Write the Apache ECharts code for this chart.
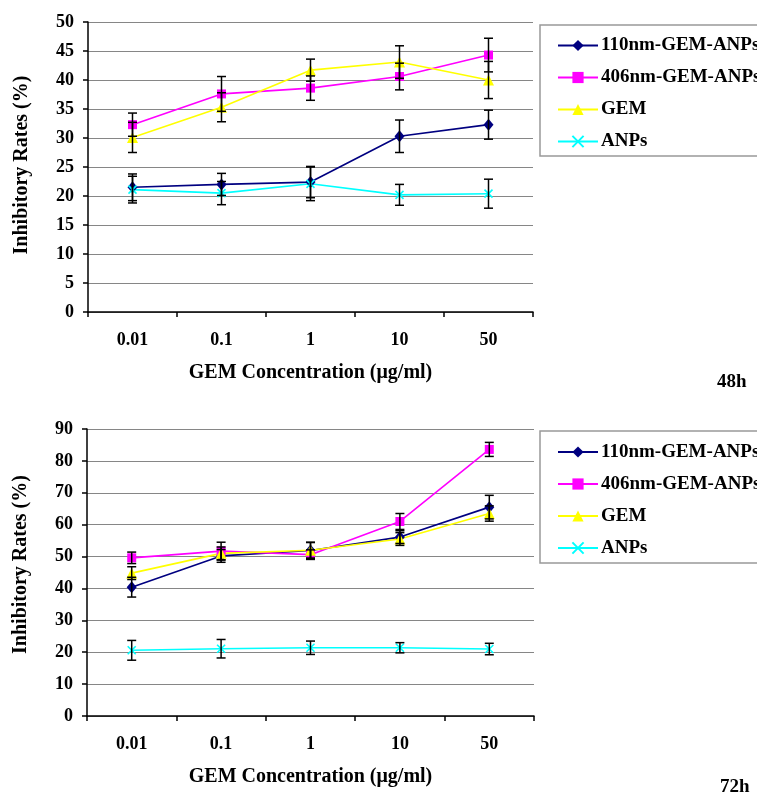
<!DOCTYPE html>
<html>
<head>
<meta charset="utf-8">
<script src="https://cdn.jsdelivr.net/npm/echarts@6/dist/echarts.min.js"></script>
<style>
  html, body { margin: 0; padding: 0; background: #fff; }
  #main { width: 757px; height: 793px; }
</style>
</head>
<body>
<div id="main"></div>
<script>
// concentrations (ug/ml)
const categories = ['0.01', '0.1', '1', '10', '50'];
const seriesNames = ['110nm-GEM-ANPs', '406nm-GEM-ANPs', 'GEM', 'ANPs'];

// 48h inhibitory rates (%) and error
const rate48_110 = [21.5, 22.0, 22.4, 30.3, 32.3];
const err48_110 = [2.3, 1.9, 2.7, 2.8, 2.5];
const rate48_406 = [32.3, 37.6, 38.6, 40.6, 44.3];
const err48_406 = [2.0, 3.0, 2.1, 2.3, 2.9];
const rate48_gem = [30.1, 35.3, 41.7, 43.1, 40.0];
const err48_gem = [2.6, 2.5, 1.9, 2.8, 3.2];
const rate48_anp = [21.1, 20.5, 22.1, 20.2, 20.4];
const err48_anp = [2.3, 2.0, 2.9, 1.8, 2.5];

// 72h inhibitory rates (%) and error
const rate72_110 = [40.4, 50.2, 51.9, 56.1, 65.5];
const err72_110 = [3.1, 2.0, 2.5, 2.0, 3.7];
const rate72_406 = [49.6, 51.7, 50.6, 61.0, 83.6];
const err72_406 = [1.8, 2.8, 1.5, 2.5, 2.2];
const rate72_gem = [44.8, 51.0, 52.0, 55.5, 63.5];
const err72_gem = [2.0, 2.0, 2.5, 2.0, 2.4];
const rate72_anp = [20.6, 21.1, 21.4, 21.4, 21.0];
const err72_anp = [3.1, 2.9, 2.1, 1.6, 1.8];

const colors = ['#000080', '#FF00FF', '#FFFF00', '#00FFFF'];
const symbols = ['diamond', 'rect', 'triangle', 'path://M0,0L10,10M10,0L0,10'];
const symbolSizes = [[10, 12], 9, 11, 8];
const font = '"Liberation Serif", "Times New Roman", serif';

const chart = echarts.init(document.getElementById('main'));

function lineSeries(idx, data, axisIdx) {
	return {
		name: seriesNames[idx],
		type: 'line',
		xAxisIndex: axisIdx,
		yAxisIndex: axisIdx,
		data: data,
		symbol: symbols[idx],
		symbolSize: symbolSizes[idx],
		showAllSymbol: true,
		lineStyle: { color: colors[idx], width: 1.6 },
		itemStyle: idx === 3
			? { color: colors[idx], borderColor: colors[idx], borderWidth: 1.6 }
			: { color: colors[idx] },
		z: 3,
		animation: false
	};
}

function errorSeries(vals, errs, axisIdx) {
	return {
		type: 'custom',
		xAxisIndex: axisIdx,
		yAxisIndex: axisIdx,
		data: vals.map((v, i) => [i, v - errs[i], v + errs[i]]),
		renderItem: function (params, api) {
			const lo = api.coord([api.value(0), api.value(1)]);
			const hi = api.coord([api.value(0), api.value(2)]);
			const w = 4.5;
			const style = { stroke: '#000', lineWidth: 1.5 };
			return {
				type: 'group',
				children: [
					{ type: 'line', shape: { x1: lo[0], y1: lo[1], x2: hi[0], y2: hi[1] }, style: style },
					{ type: 'line', shape: { x1: lo[0] - w, y1: lo[1], x2: lo[0] + w, y2: lo[1] }, style: style },
					{ type: 'line', shape: { x1: hi[0] - w, y1: hi[1], x2: hi[0] + w, y2: hi[1] }, style: style }
				]
			};
		},
		z: 4,
		silent: true,
		animation: false
	};
}

function xAxisOf(gridIdx) {
	return {
		type: 'category',
		gridIndex: gridIdx,
		data: categories,
		boundaryGap: true,
		name: 'GEM Concentration (μg/ml)',
		nameLocation: 'middle',
		nameGap: 51,
		nameTextStyle: { fontFamily: font, fontWeight: 'bold', fontSize: 20, color: '#000' },
		axisLine: { lineStyle: { color: '#000', width: 1.5 } },
		axisTick: { show: true, length: 5, inside: false, lineStyle: { color: '#000', width: 1.5 } },
		axisLabel: { margin: 19, fontFamily: font, fontWeight: 'bold', fontSize: 18, color: '#000' },
		splitLine: { show: false }
	};
}

function yAxisOf(gridIdx, max, interval, shiftUp) {
	return {
		type: 'value',
		gridIndex: gridIdx,
		min: 0,
		max: max,
		interval: interval,
		name: 'Inhibitory Rates (%)',
		nameLocation: 'middle',
		nameGap: 56,
		nameTextStyle: {
			fontFamily: font, fontWeight: 'bold', fontSize: 20, color: '#000',
			padding: [0, 0, 0, shiftUp * 2]
		},
		axisLine: { show: true, lineStyle: { color: '#000', width: 1.5 } },
		axisTick: { show: true, length: 5, lineStyle: { color: '#000', width: 1.5 } },
		axisLabel: { margin: 14, fontFamily: font, fontWeight: 'bold', fontSize: 18, color: '#000' },
		splitLine: { show: true, lineStyle: { color: '#868686', width: 1.2 } }
	};
}

function legendOf(top, padTop, padBottom) {
	return {
		data: seriesNames,
		orient: 'vertical',
		left: 540,
		top: top,
		padding: [padTop, 30, padBottom, 17],
		itemWidth: 40,
		itemHeight: 14,
		itemGap: 13,
		borderColor: '#999',
		borderWidth: 1.5,
		selectedMode: false,
		textStyle: { fontFamily: font, fontWeight: 'bold', fontSize: 19, color: '#000', padding: [0, 0, 0, -2] }
	};
}

const titleStyle = { fontFamily: font, fontWeight: 'bold', fontSize: 19, color: '#000' };

const option = {
	backgroundColor: '#fff',
	animation: false,
	title: [
		{ text: '48h', left: 717, top: 373, padding: 0, textStyle: titleStyle },
		{ text: '72h', left: 720, top: 778, padding: 0, textStyle: titleStyle }
	],
	legend: [legendOf(25, 11, 5), legendOf(431, 11.5, 5.5)],
	grid: [
		{ left: 88, top: 22, width: 445, height: 290 },
		{ left: 87, top: 429, width: 447, height: 287 }
	],
	xAxis: [xAxisOf(0), xAxisOf(1)],
	yAxis: [yAxisOf(0, 50, 5, 2), yAxisOf(1, 90, 10, 8)],
	series: [
		lineSeries(0, rate48_110, 0),
		lineSeries(1, rate48_406, 0),
		lineSeries(2, rate48_gem, 0),
		lineSeries(3, rate48_anp, 0),
		errorSeries(rate48_110, err48_110, 0),
		errorSeries(rate48_406, err48_406, 0),
		errorSeries(rate48_gem, err48_gem, 0),
		errorSeries(rate48_anp, err48_anp, 0),
		lineSeries(0, rate72_110, 1),
		lineSeries(1, rate72_406, 1),
		lineSeries(2, rate72_gem, 1),
		lineSeries(3, rate72_anp, 1),
		errorSeries(rate72_110, err72_110, 1),
		errorSeries(rate72_406, err72_406, 1),
		errorSeries(rate72_gem, err72_gem, 1),
		errorSeries(rate72_anp, err72_anp, 1)
	]
};

chart.setOption(option);
</script>
</body>
</html>
